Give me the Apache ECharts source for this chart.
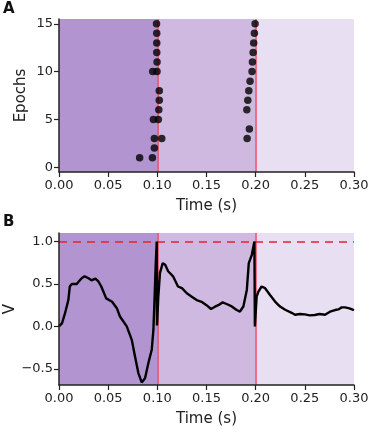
<!DOCTYPE html>
<html>
<head>
<meta charset="utf-8">
<script src="https://cdn.jsdelivr.net/npm/echarts@6/dist/echarts.min.js"></script>
<style>
  html, body { margin: 0; padding: 0; background: #fff; }
  #box { width: 374px; height: 433px; }
</style>
</head>
<body>
<div id="box"></div>
<script>
// 刺激时间点 / 区间
const stimTimes = [0.1, 0.2];
const zones = [[0, 0.1], [0.1, 0.2], [0.2, 0.3]];
const zoneColors = ['#b294d0', '#cfb9e1', '#e9dff2'];
const threshold = 1.0;

// A: 每个 epoch 的放电时间
const epochsA1 = [1, 1, 2, 3, 3, 5, 5, 6, 7, 8, 10, 10, 11, 12, 13, 14, 15];
const timesA1 = [0.082, 0.095, 0.097, 0.097, 0.1045, 0.096, 0.101, 0.1015, 0.102, 0.102,
  0.0953, 0.0997, 0.0997, 0.0994, 0.0994, 0.0994, 0.0992];
const epochsA2 = [3, 4, 6, 7, 8, 9, 10, 11, 12, 13, 14, 15];
const timesA2 = [0.1913, 0.1936, 0.191, 0.192, 0.193, 0.1943, 0.1963, 0.1967, 0.1974, 0.198, 0.1987, 0.1994];

// B: 膜电位曲线
const traceT = [0, 0.003, 0.006, 0.0095, 0.011, 0.013, 0.015, 0.018, 0.020, 0.023, 0.026, 0.030,
  0.033, 0.037, 0.040, 0.043, 0.048, 0.054, 0.059, 0.062, 0.0689, 0.074, 0.0773, 0.0807, 0.0841,
  0.0875, 0.0909, 0.0943, 0.096, 0.097, 0.0984, 0.0994, 0.0997,
  0.101, 0.1027, 0.1055, 0.108, 0.111, 0.116, 0.121, 0.125, 0.13, 0.135, 0.14, 0.145, 0.150,
  0.1546, 0.1586, 0.162, 0.1664, 0.1705, 0.1757, 0.1807, 0.184, 0.1875, 0.191, 0.193, 0.196,
  0.1987, 0.1992,
  0.201, 0.2028, 0.206, 0.2096, 0.2146, 0.2197, 0.2248, 0.23, 0.2366, 0.24, 0.245, 0.25, 0.255,
  0.26, 0.265, 0.2705, 0.2756, 0.2807, 0.284, 0.2875, 0.291, 0.2953, 0.30];
const traceV = [0, 0.035, 0.15, 0.31, 0.47, 0.50, 0.485, 0.50, 0.50, 0.567, 0.59, 0.567,
  0.543, 0.563, 0.53, 0.47, 0.33, 0.29, 0.21, 0.117, 0.0, -0.158, -0.355, -0.55, -0.66,
  -0.61, -0.43, -0.275, -0.04, 0.27, 0.745, 1.0, 0.01,
  0.35, 0.63, 0.745, 0.725, 0.65, 0.59, 0.47, 0.45, 0.39, 0.35, 0.31, 0.29, 0.25,
  0.205, 0.232, 0.25, 0.283, 0.264, 0.235, 0.193, 0.175, 0.234, 0.43, 0.745, 0.84,
  1.0, 0.0,
  0.35, 0.41, 0.47, 0.45, 0.37, 0.293, 0.234, 0.196, 0.16, 0.138, 0.146, 0.142, 0.13,
  0.134, 0.146, 0.138, 0.173, 0.193, 0.20, 0.224, 0.224, 0.213, 0.193];

const yTicksA = [0, 5, 10, 15];
const yTicksB = [-0.5, 0, 0.5, 1.0];

const font = 'DejaVu Sans';
const ink = '#222';

const zoneData = zones.map((z, i) => [
  { xAxis: z[0], itemStyle: { color: zoneColors[i] } },
  { xAxis: z[1] }
]);
const stimLines = stimTimes.map(t => ({ xAxis: t }));

const xAxisBase = (gridIndex) => ({
  gridIndex,
  type: 'value',
  min: 0,
  max: 0.3,
  interval: 0.05,
  z: 10,
  name: 'Time (s)',
  nameLocation: 'middle',
  nameGap: 27,
  nameTextStyle: { fontFamily: font, fontSize: 15, color: ink },
  axisLine: { show: true, onZero: false, lineStyle: { color: ink, width: 1.5 } },
  axisTick: { show: true, length: 5, lineStyle: { color: ink, width: 1.2 } },
  axisLabel: {
    fontFamily: font, fontSize: 13, color: ink, margin: 7,
    formatter: v => v.toFixed(2)
  },
  splitLine: { show: false }
});

const yAxisBase = (gridIndex, min, max, ticks, name, gap, fmt) => ({
  gridIndex,
  type: 'value',
  min,
  max,
  z: 10,
  name,
  nameLocation: 'middle',
  nameRotate: 90,
  nameGap: gap,
  nameMoveOverlap: false,
  nameTextStyle: { fontFamily: font, fontSize: 15, color: ink },
  axisLine: { show: true, onZero: false, lineStyle: { color: ink, width: 1.5 } },
  axisTick: { show: true, length: 5, customValues: ticks, lineStyle: { color: ink, width: 1.2 } },
  axisLabel: {
    fontFamily: font, fontSize: 13, color: ink, margin: 6,
    customValues: ticks, formatter: fmt
  },
  splitLine: { show: false }
});

const stimStyle = { color: 'rgba(240,40,60,0.6)', width: 2, type: 'solid' };

const bgSeries = (idx, extraLines) => ({
  type: 'line',
  xAxisIndex: idx,
  yAxisIndex: idx,
  data: [],
  z: 1,
  silent: true,
  markArea: { silent: true, data: zoneData },
  markLine: {
    silent: true,
    symbol: 'none',
    label: { show: false },
    lineStyle: stimStyle,
    data: stimLines.concat(extraLines)
  }
});

const myChart = echarts.init(document.getElementById('box'), null, { renderer: 'canvas' });

const option = {
  animation: false,
  title: [
    { text: 'A', left: 3, top: 2, padding: 0, textStyle: { fontFamily: font, fontSize: 15, fontWeight: 'bold', color: '#111' } },
    { text: 'B', left: 3, top: 215, padding: 0, textStyle: { fontFamily: font, fontSize: 15, fontWeight: 'bold', color: '#111' } }
  ],
  grid: [
    { left: 59, right: 20, top: 19, height: 153, containLabel: false, outerBoundsMode: 'none' },
    { left: 59, right: 20, top: 233, height: 152, containLabel: false, outerBoundsMode: 'none' }
  ],
  xAxis: [xAxisBase(0), xAxisBase(1)],
  yAxis: [
    yAxisBase(0, -0.5, 15.5, yTicksA, 'Epochs', 30, v => String(v)),
    yAxisBase(1, -0.69, 1.1, yTicksB, 'V', 41, v => (v < 0 ? '\u2212' + Math.abs(v).toFixed(1) : v.toFixed(1)))
  ],
  series: [
    bgSeries(0, []),
    bgSeries(1, [{ yAxis: threshold, lineStyle: { color: '#e4232b', width: 1.5, type: [8, 6] } }]),
    {
      type: 'scatter',
      xAxisIndex: 0,
      yAxisIndex: 0,
      symbolSize: 7.5,
      itemStyle: { color: '#000' },
      z: 5,
      data: timesA1.map((t, i) => [t, epochsA1[i]]).concat(timesA2.map((t, i) => [t, epochsA2[i]]))
    },
    {
      type: 'line',
      xAxisIndex: 1,
      yAxisIndex: 1,
      symbol: 'none',
      showSymbol: false,
      z: 5,
      lineStyle: { color: '#000', width: 2.4 },
      data: traceT.map((t, i) => [t, traceV[i]])
    }
  ]
};

myChart.setOption(option);
</script>
</body>
</html>
